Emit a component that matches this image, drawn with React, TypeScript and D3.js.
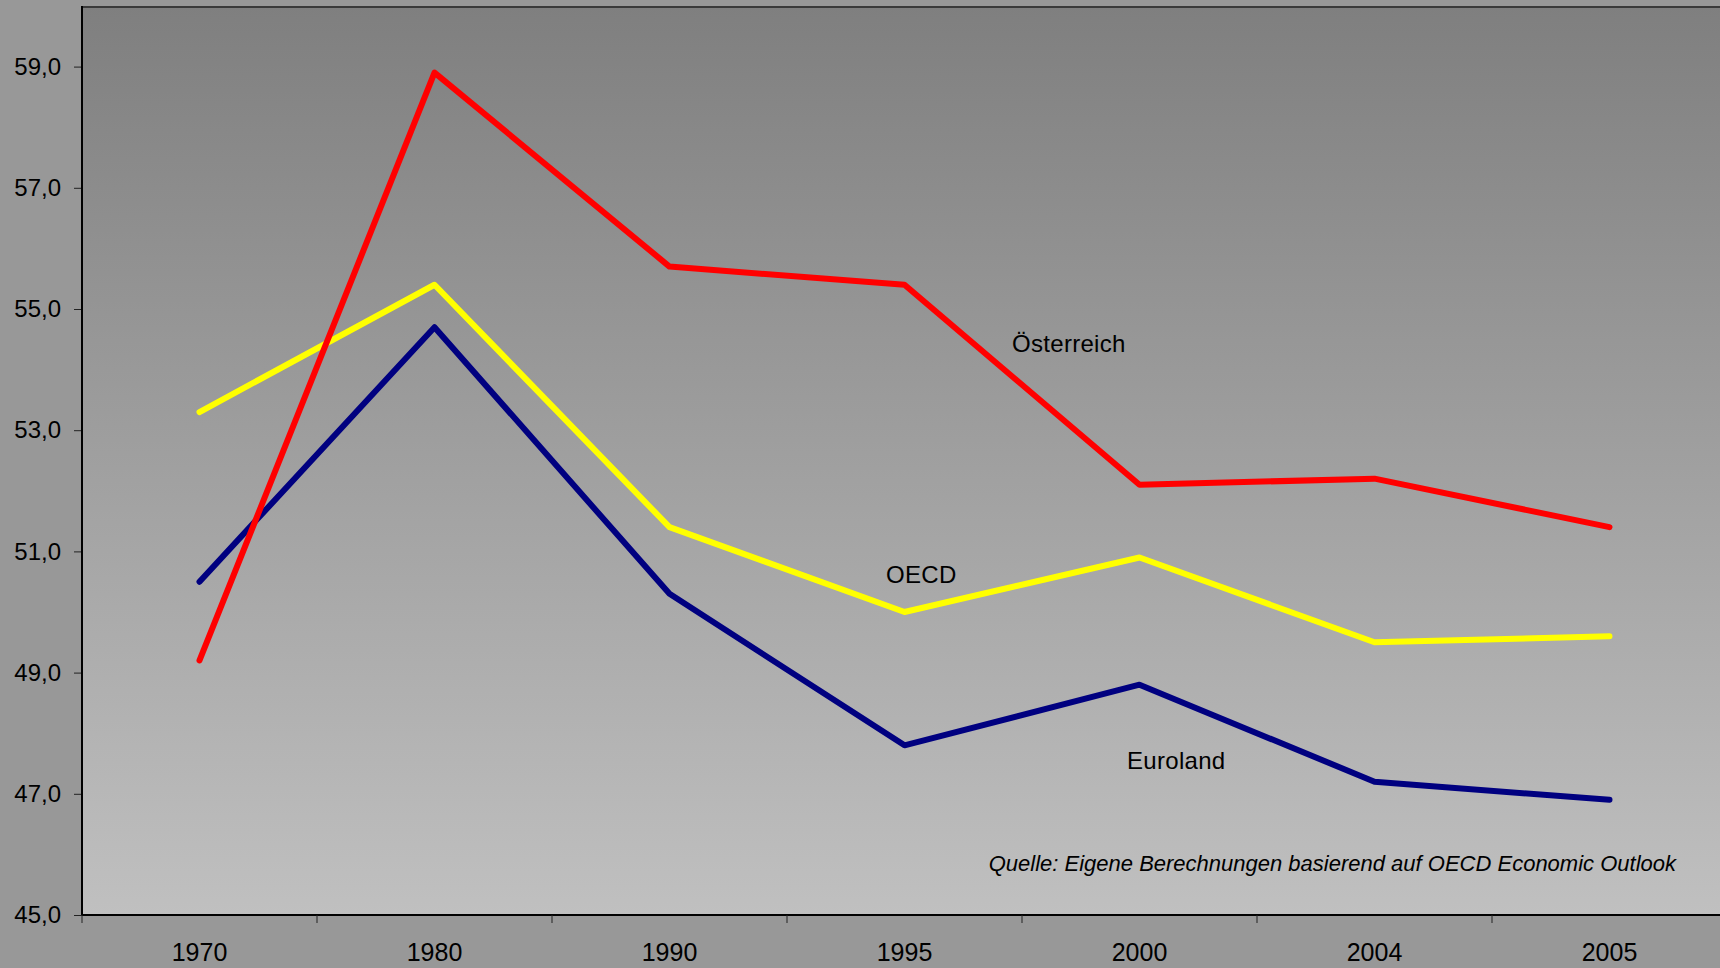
import React, { useEffect, useRef } from 'react';
import * as d3 from 'd3';

// data
const years = ['1970', '1980', '1990', '1995', '2000', '2004', '2005'];
const oesterreich = [49.2, 58.9, 55.7, 55.4, 52.1, 52.2, 51.4];
const oecd = [53.3, 55.4, 51.4, 50.0, 50.9, 49.5, 49.6];
const euroland = [50.5, 54.7, 50.3, 47.8, 48.8, 47.2, 46.9];
const yTicks = [45, 47, 49, 51, 53, 55, 57, 59];
const sourceNote = 'Quelle: Eigene Berechnungen basierend auf OECD Economic Outlook';

const W = 1720;
const H = 968;
const margin = { top: 6, left: 82, bottom: 915 };
const bandW = 235;
const font = 'Liberation Sans, Arial, sans-serif';

const App = () => {
  const svgRef = useRef<SVGSVGElement>(null);

  useEffect(() => {
    document.body.style.margin = '0';
    const svg = d3.select(svgRef.current);
    svg.selectAll('*').remove();

    const de = d3.formatLocale({ decimal: ',', thousands: '.', grouping: [3], currency: ['', ' €'] });
    const fmt = de.format('.1f');

    const x = d3.scaleBand<string>()
      .domain(years)
      .range([margin.left, margin.left + bandW * years.length]);
    const y = d3.scaleLinear().domain([45, 60]).range([margin.bottom, margin.top]);

    // backgrounds
    const defs = svg.append('defs');
    const grad = defs.append('linearGradient')
      .attr('id', 'plotbg').attr('x1', 0).attr('y1', 0).attr('x2', 0).attr('y2', 1);
    grad.append('stop').attr('offset', '0%').attr('stop-color', '#7f7f7f');
    grad.append('stop').attr('offset', '100%').attr('stop-color', '#c0c0c0');

    svg.append('rect').attr('width', W).attr('height', H).attr('fill', '#989898');
    svg.append('rect')
      .attr('x', margin.left).attr('y', margin.top)
      .attr('width', W - margin.left).attr('height', margin.bottom - margin.top)
      .attr('fill', 'url(#plotbg)');

    // top border
    svg.append('line')
      .attr('x1', margin.left).attr('x2', W)
      .attr('y1', margin.top + 1).attr('y2', margin.top + 1)
      .attr('stroke', '#3a3a3a').attr('stroke-width', 2);

    // Y axis
    const yAxis = svg.append('g')
      .attr('transform', `translate(${margin.left},0)`)
      .call(d3.axisLeft(y).tickValues(yTicks).tickSize(8).tickPadding(13).tickFormat((d) => fmt(d as number)));
    yAxis.select('.domain').remove();
    yAxis.selectAll('line').attr('stroke', '#222');
    yAxis.selectAll('text')
      .attr('fill', '#000')
      .style('font-family', font)
      .style('font-size', '24px');
    svg.append('line')
      .attr('x1', margin.left).attr('x2', margin.left)
      .attr('y1', margin.top).attr('y2', margin.bottom)
      .attr('stroke', '#000').attr('stroke-width', 2);

    // X axis
    svg.append('line')
      .attr('x1', margin.left).attr('x2', W)
      .attr('y1', margin.bottom).attr('y2', margin.bottom)
      .attr('stroke', '#000').attr('stroke-width', 2);
    const xg = svg.append('g');
    xg.selectAll('line.tick')
      .data(years)
      .join('line')
      .attr('x1', (d) => x(d)!).attr('x2', (d) => x(d)!)
      .attr('y1', margin.bottom).attr('y2', margin.bottom + 8)
      .attr('stroke', '#222');
    xg.selectAll('text')
      .data(years)
      .join('text')
      .attr('x', (d) => x(d)! + x.bandwidth() / 2)
      .attr('y', 961)
      .attr('text-anchor', 'middle')
      .style('font-family', font)
      .style('font-size', '25px')
      .text((d) => d);

    // lines
    const line = d3.line<number>()
      .x((_, i) => x(years[i])! + x.bandwidth() / 2)
      .y((d) => y(d));

    const series = [
      { values: euroland, color: '#000080' },
      { values: oecd, color: '#ffff00' },
      { values: oesterreich, color: '#ff0000' },
    ];
    svg.selectAll('path.series')
      .data(series)
      .join('path')
      .attr('class', 'series')
      .attr('d', (s) => line(s.values))
      .attr('fill', 'none')
      .attr('stroke', (s) => s.color)
      .attr('stroke-width', 6)
      .attr('stroke-linejoin', 'round')
      .attr('stroke-linecap', 'round');

    // labels
    const labels = [
      { text: 'Österreich', x: 1012, y: 352 },
      { text: 'OECD', x: 886, y: 583 },
      { text: 'Euroland', x: 1127, y: 769 },
    ];
    svg.selectAll('text.lbl')
      .data(labels)
      .join('text')
      .attr('class', 'lbl')
      .attr('x', (d) => d.x).attr('y', (d) => d.y)
      .style('font-family', font)
      .style('font-size', '24px')
      .style('letter-spacing', '0.3px')
      .text((d) => d.text);

    svg.append('text')
      .attr('x', 1676).attr('y', 871)
      .attr('text-anchor', 'end')
      .style('font-family', font)
      .style('font-size', '22px')
      .style('font-style', 'italic')
      .text(sourceNote);
  }, []);

  return (
    <svg ref={svgRef} width={W} height={H} style={{ display: 'block', position: 'absolute', left: 0, top: 0 }} />
  );
};

export default App;
